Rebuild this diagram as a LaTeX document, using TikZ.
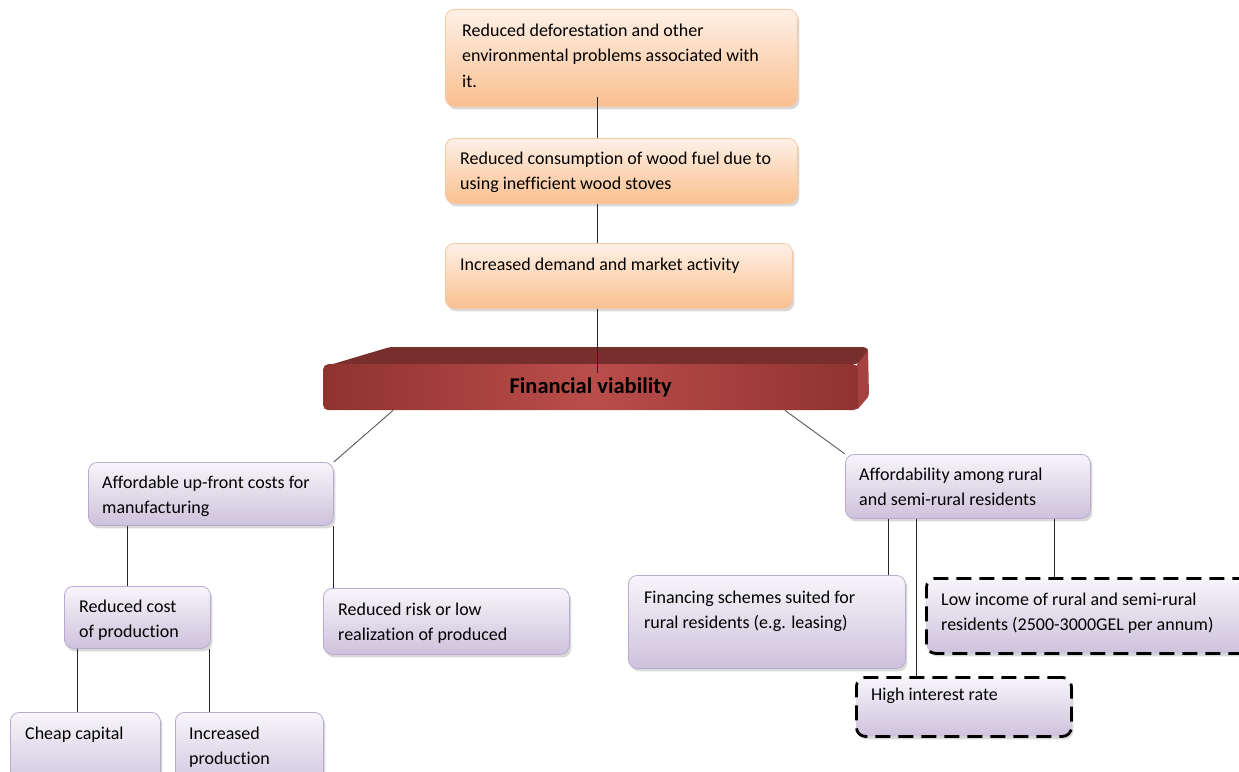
\documentclass[tikz,border=0pt]{standalone}
\usepackage{fontspec}
\setmainfont{Carlito}[Ligatures={NoCommon,NoContextual}]
\usetikzlibrary{shadows,calc}
\definecolor{orTop}{HTML}{FEF0E6}
\definecolor{orBot}{HTML}{FAC08F}
\definecolor{orBorder}{HTML}{F8C8A0}
\definecolor{lvTop}{HTML}{F7F5FA}
\definecolor{lvBot}{HTML}{CDC2DC}
\definecolor{lvBorder}{HTML}{B9ABCF}
\definecolor{barE}{HTML}{8F3331}
\definecolor{barM}{HTML}{BA4D4A}
\definecolor{barTop}{HTML}{772E2C}
\definecolor{barSide}{HTML}{A3423F}
\begin{document}
\begin{tikzpicture}[x=1pt,y=-1pt,
  basebox/.style={line width=0.8pt, rounded corners=9pt, anchor=north west, inner sep=0pt,
    drop shadow={shadow xshift=2pt,shadow yshift=-3pt,opacity=0.3}},
  obox/.style={basebox, draw=orBorder, top color=orTop, bottom color=orBot},
  lbox/.style={basebox, draw=lvBorder, top color=lvTop, bottom color=lvBot},
  dbox/.style={basebox, draw=black, top color=lvTop, bottom color=lvBot, line width=2.8pt, dash pattern=on 15pt off 8pt},
  txt/.style={anchor=north west, align=left, inner sep=0pt, font=\fontsize{18}{25.5}\selectfont},
  barfront/.style={rounded corners=5pt, left color=barE, right color=barE, middle color=barM,
    anchor=north west, inner sep=0pt, font=\bfseries\fontsize{22.5}{27}\selectfont},
  conn/.style={draw=black!85, line width=0.8pt},
  diag/.style={draw=black!65, line width=0.9pt}]
\useasboundingbox (0,0) rectangle (1239,771);

% orange chain
\node[obox, minimum width=352pt, minimum height=97pt] (n1) at (445,9) {};
\node[txt] (t1) at (462,21) {\rule{0pt}{15pt}Reduced deforestation and other\\environmental problems associated with\\it.};
\node[obox, minimum width=352pt, minimum height=65pt] (n2) at (445,138) {};
\node[txt] (t2) at (460,149) {\rule{0pt}{15pt}Reduced consumption of wood fuel due to\\using inefficient wood stoves};
\node[obox, minimum width=347pt, minimum height=65pt] (n3) at (445,243) {};
\node[txt] (t3) at (460,255) {\rule{0pt}{15pt}Increased demand and market activity};

% bar
\fill[barTop, rounded corners=3pt] (323,367) -- (390,347) -- (866,347) -- (869,351) -- (858,364) -- cycle;
\fill[barSide, rounded corners=2pt] (856,366) -- (868,350) -- (869,396) -- (857,410) -- cycle;
\node[barfront, minimum width=535pt, minimum height=46pt] (fv) at (323,364) {Financial viability};

% lavender boxes
\node[lbox, minimum width=245pt, minimum height=63pt] (A) at (88,462) {};
\node[txt] (tA) at (102,473) {\rule{0pt}{15pt}Affordable up-front costs for\\manufacturing};
\node[lbox, minimum width=245pt, minimum height=64pt] (B) at (845,454) {};
\node[txt] (tB) at (859,465) {\rule{0pt}{15pt}Affordability among rural\\and semi-rural residents};
\node[lbox, minimum width=146pt, minimum height=62pt] (C) at (64,586) {};
\node[txt] (tC) at (79,597) {\rule{0pt}{15pt}Reduced cost\\of production};
\node[lbox, minimum width=246pt, minimum height=66pt] (D) at (323,588) {};
\node[txt] (tD) at (338,600) {\rule{0pt}{15pt}Reduced risk or low\\realization of produced};
\node[lbox, minimum width=150pt, minimum height=80pt] (E) at (10,712) {};
\node[txt] (tE) at (25,724) {\rule{0pt}{15pt}Cheap capital};
\node[lbox, minimum width=148pt, minimum height=80pt] (F) at (175,712) {};
\node[txt] (tF) at (189,724) {\rule{0pt}{15pt}Increased\\production};
\node[lbox, minimum width=277pt, minimum height=93pt] (G) at (628,575) {};
\node[txt] (tG) at (644,588) {\rule{0pt}{15pt}Financing schemes suited for\\rural residents (e.g. leasing)};
\node[dbox, minimum width=330pt, minimum height=75pt] (H) at (925,577) {};
\node[txt] (tH) at (941,590) {\rule{0pt}{15pt}Low income of rural and semi-rural\\residents (2500-3000GEL per annum)};
\node[dbox, minimum width=215pt, minimum height=59pt] (I) at (855,676) {};
\node[txt] (tI) at (871,685) {\rule{0pt}{15pt}High interest rate};

% connectors
\coordinate (a1) at ([xshift=152pt,yshift=10pt]n1.south west);
\draw[conn] (a1) -- (a1 |- n2.north);
\coordinate (a2) at ([xshift=152pt]n2.south west);
\draw[conn] (a2) -- (a2 |- n3.north);
\coordinate (a3) at ([xshift=152pt]n3.south west);
\coordinate (a3b) at (a3 |- fv.north);
\draw[conn] (a3) -- ([yshift=-9pt]a3b);
\draw[diag] ([xshift=70pt]fv.south west) -- (A.north east);
\draw[diag] ([xshift=462pt]fv.south west) -- (B.north west);
\coordinate (a6) at ([xshift=39pt]A.south west);
\draw[conn] (a6) -- (a6 |- C.north);
\draw[conn] (A.south east) -- (A.south east |- D.north);
\coordinate (a8) at ([xshift=13pt]C.south west);
\draw[conn] (a8) -- (a8 |- E.north);
\coordinate (a9) at ([xshift=145pt]C.south west);
\draw[conn] (a9) -- (a9 |- F.north);
\coordinate (b1) at ([xshift=43pt]B.south west);
\draw[conn] (b1) -- (b1 |- G.north);
\coordinate (b2) at ([xshift=71pt]B.south west);
\draw[conn] (b2) -- (b2 |- I.north);
\coordinate (b3) at ([xshift=209pt]B.south west);
\draw[conn] (b3) -- (b3 |- H.north);
\end{tikzpicture}
\end{document}
